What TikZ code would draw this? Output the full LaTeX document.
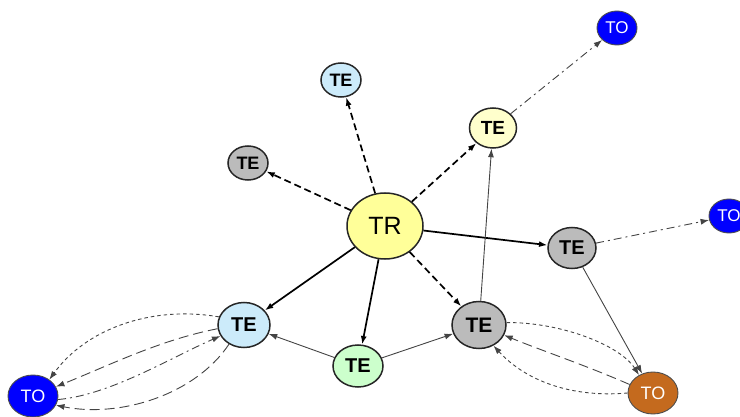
\documentclass[tikz,border=0pt]{standalone}
\usepackage{fontspec}
\setmainfont{Liberation Sans}
\usetikzlibrary{arrows.meta,shapes.geometric}
\definecolor{cTR}{HTML}{FFFF99}
\definecolor{cLB}{HTML}{CCEBFA}
\definecolor{cGR}{HTML}{BBBBBB}
\definecolor{cPY}{HTML}{FFFFCC}
\definecolor{cGN}{HTML}{CCFFCC}
\definecolor{cBL}{HTML}{0000FF}
\definecolor{cOR}{HTML}{C46A1E}
\definecolor{cLn}{HTML}{444444}
\begin{document}
\begin{tikzpicture}[x=1pt,y=-1pt,
  nd/.style={ellipse,draw=black!85,line width=1.5pt,inner sep=0pt,font=\bfseries},
  tok/.style={ellipse,draw=black!70,line width=0.9pt,inner sep=0pt,text=white,fill=cBL},
  tip/.style={-{Latex[length=8.5pt,width=6pt]}},
  heavy/.style={tip,line width=1.7pt,black},
  hdash/.style={heavy,dash pattern=on 7pt off 4pt},
  thin/.style={tip,line width=0.9pt,cLn},
  sdash/.style={thin,dash pattern=on 3.5pt off 3pt},
  ldash/.style={thin,dash pattern=on 10pt off 5pt},
  ddot/.style={thin,dash pattern=on 8pt off 4pt on 2pt off 4pt}]
\useasboundingbox (0,0) rectangle (740,417);
% nodes
\node[nd,fill=cTR,minimum width=76pt,minimum height=66pt,font=\fontsize{25}{25}\selectfont] (tr) at (385,226) {TR};
\node[nd,fill=cLB,minimum width=40pt,minimum height=34pt,font=\bfseries\fontsize{18}{18}\selectfont] (teA) at (341,80) {TE};
\node[nd,fill=cGR,minimum width=40pt,minimum height=34pt,font=\bfseries\fontsize{18}{18}\selectfont] (teB) at (248,163) {TE};
\node[nd,fill=cPY,minimum width=47pt,minimum height=40pt,font=\bfseries\fontsize{19}{19}\selectfont] (teC) at (493,128) {TE};
\node[nd,fill=cGR,minimum width=48pt,minimum height=41pt,font=\bfseries\fontsize{20}{20}\selectfont] (teD) at (572,248) {TE};
\node[nd,fill=cLB,minimum width=52pt,minimum height=45pt,font=\bfseries\fontsize{20}{20}\selectfont] (teE) at (244,325) {TE};
\node[nd,fill=cGN,minimum width=50pt,minimum height=42pt,font=\bfseries\fontsize{20}{20}\selectfont] (teF) at (358,366) {TE};
\node[nd,fill=cGR,minimum width=54pt,minimum height=47pt,font=\bfseries\fontsize{21}{21}\selectfont] (teG) at (479,325) {TE};
\node[tok,minimum width=40pt,minimum height=34pt,font=\fontsize{17}{17}\selectfont] (toA) at (617,28) {TO};
\node[tok,minimum width=40pt,minimum height=34pt,font=\fontsize{17}{17}\selectfont] (toB) at (729,216) {TO};
\node[tok,minimum width=50pt,minimum height=42pt,font=\fontsize{18}{18}\selectfont] (toC) at (33,396) {TO};
\node[tok,fill=cOR,minimum width=50pt,minimum height=42pt,font=\fontsize{18}{18}\selectfont] (toD) at (653,393) {TO};
% TR edges
\draw[hdash] (tr) -- (teA);
\draw[hdash] (tr) -- (teB);
\draw[hdash] (tr) -- (teC);
\draw[heavy] (tr) -- (teD);
\draw[hdash] (tr) -- (teG);
\draw[heavy] (tr) -- (teF);
\draw[heavy] (tr) -- (teE);
% thin solid
\draw[thin] (teF) -- (teE);
\draw[thin] (teF) -- (teG);
\draw[thin] (teG) -- (teC);
\draw[thin] (teD) -- (toD);
% dash-dot
\draw[ddot] (teC) -- (toA);
\draw[ddot] (teD) -- (toB);
% left curves
\draw[sdash] (teE.162) .. controls (150,305) and (85,330) .. (toC.45);
\draw[ldash] (teE.188) .. controls (160,340) and (110,365) .. (toC.22);
\draw[ddot] (toC.-8) .. controls (110,395) and (170,358) .. (teE.205);
\draw[ldash] (teE.232) .. controls (195,395) and (120,418) .. (toC.-22);
% right curves
\draw[sdash] (teG.5) .. controls (560,322) and (620,345) .. (toD.128);
\draw[ldash] (toD.160) .. controls (585,365) and (540,350) .. (teG.-22);
\draw[sdash] (toD.180) .. controls (570,398) and (525,380) .. (teG.-55);
\end{tikzpicture}
\end{document}
